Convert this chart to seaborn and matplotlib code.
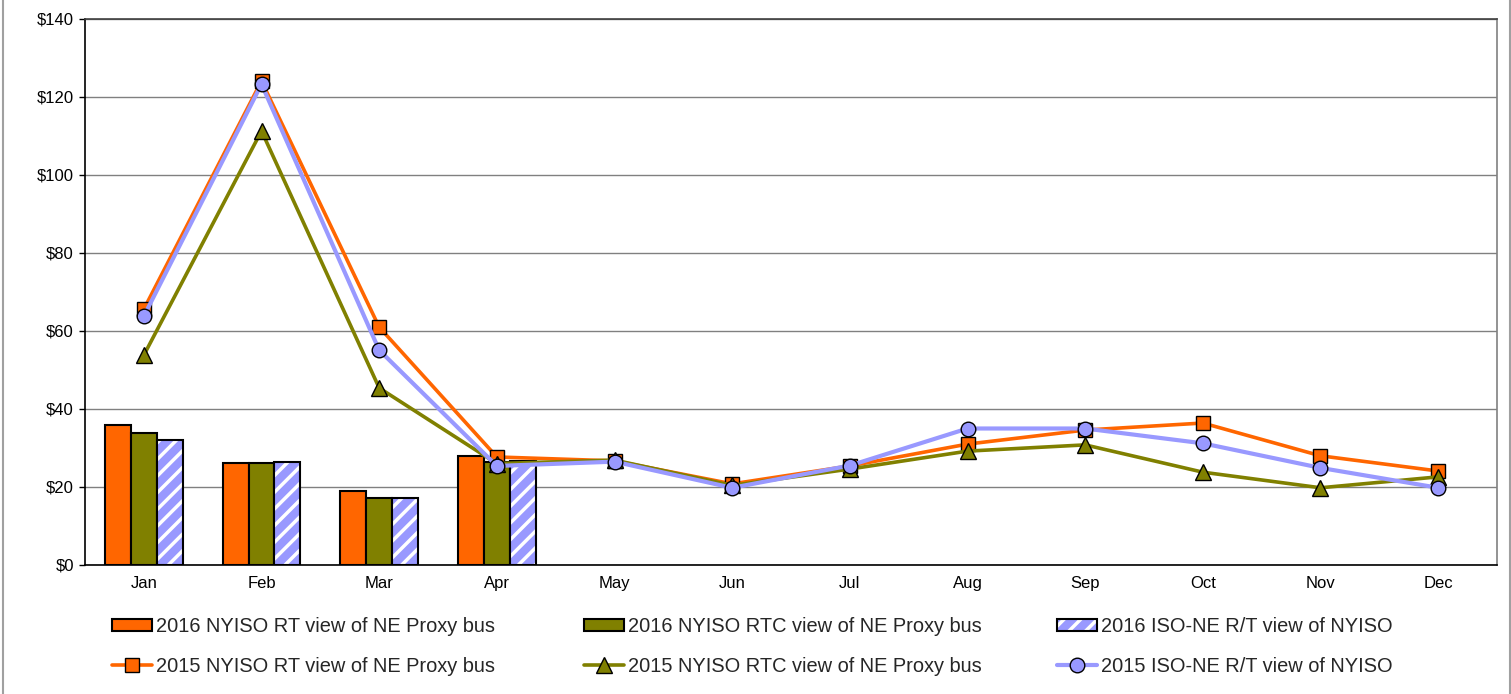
import numpy as np
import pandas as pd
import matplotlib
matplotlib.use("Agg")
import matplotlib.pyplot as plt
from matplotlib.patches import Patch, Rectangle
from matplotlib.lines import Line2D
import seaborn as sns

months = ["Jan", "Feb", "Mar", "Apr", "May", "Jun", "Jul", "Aug", "Sep", "Oct", "Nov", "Dec"]

# 2016 bars (Jan-Apr)
bar_months = ["Jan", "Feb", "Mar", "Apr"]
rt_2016 = [35.9, 26.2, 19.0, 28.0]
rtc_2016 = [33.8, 26.1, 17.2, 26.5]
isone_2016 = [32.0, 26.4, 17.2, 26.6]

# 2015 lines
rt_2015 = [65.6, 124.1, 61.0, 27.7, 26.7, 20.8, 25.4, 31.0, 34.6, 36.4, 28.0, 24.1]
rtc_2015 = [53.8, 111.3, 45.4, 26.0, 26.9, 20.4, 24.6, 29.2, 30.8, 23.8, 19.8, 22.6]
isone_2015 = [63.8, 123.3, 55.1, 25.4, 26.5, 19.8, 25.5, 35.0, 35.0, 31.2, 24.9, 19.8]

bar_labels = ["2016 NYISO RT view of NE Proxy bus",
              "2016 NYISO RTC view of NE Proxy bus",
              "2016 ISO-NE R/T view of NYISO"]
line_labels = ["2015 NYISO RT view of NE Proxy bus",
               "2015 NYISO RTC view of NE Proxy bus",
               "2015 ISO-NE R/T view of NYISO"]
y_ticks = [0, 20, 40, 60, 80, 100, 120, 140]

ORANGE = "#FF6600"
OLIVE = "#808000"
BLUE = "#9999FF"

sns.set_theme(style="white")
plt.rcParams["font.family"] = ["Liberation Sans", "DejaVu Sans"]
plt.rcParams["hatch.linewidth"] = 2.5

W, H = 1511, 694
fig = plt.figure(figsize=(W / 100, H / 100), dpi=100)
ax = fig.add_axes([85 / W, 1 - 565 / H, (1497 - 85) / W, (565 - 19) / H])

df = pd.DataFrame({
    "month": bar_months * 3,
    "series": [bar_labels[0]] * 4 + [bar_labels[1]] * 4 + [bar_labels[2]] * 4,
    "value": rt_2016 + rtc_2016 + isone_2016,
})
sns.barplot(data=df, x="month", y="value", hue="series", order=months,
            hue_order=bar_labels, palette=[ORANGE, OLIVE, BLUE], width=0.66,
            saturation=1, edgecolor="black", linewidth=1.5, errorbar=None,
            legend=False, ax=ax, zorder=2)

# hatched white stripes on blue bars, black outline drawn on top
for p in ax.containers[2]:
    p.set_hatch("//")
    p.set_edgecolor("white")
    p.set_linewidth(0)
    ax.add_patch(Rectangle(p.get_xy(), p.get_width(), p.get_height(), fill=False,
                           edgecolor="black", linewidth=1.5, zorder=2.1))

xs = np.arange(len(months))
sns.lineplot(x=xs, y=rt_2015, color=ORANGE, linewidth=2.6, marker="s", markersize=10.5,
             markeredgecolor="black", markeredgewidth=1, ax=ax, zorder=4)
sns.lineplot(x=xs, y=rtc_2015, color=OLIVE, linewidth=2.6, marker="^", markersize=11,
             markeredgecolor="black", markeredgewidth=1, ax=ax, zorder=4)
sns.lineplot(x=xs, y=isone_2015, color=BLUE, linewidth=3.0, marker="o", markersize=10.5,
             markeredgecolor="black", markeredgewidth=1, ax=ax, zorder=5)

ax.set_xlim(-0.5, 11.5)
ax.set_ylim(0, 140)
ax.set_xlabel("")
ax.set_ylabel("")
ax.set_xticks(xs)
ax.set_xticklabels(months)
ax.set_xticks(np.arange(-0.5, 12, 1), minor=True)
ax.tick_params(axis="x", which="major", length=0, pad=8, labelsize=12, labelcolor="black")
ax.tick_params(axis="x", which="minor", length=4, width=1, color="black", direction="out")
ax.set_yticks(y_ticks)
ax.set_yticklabels([f"${v}" for v in y_ticks])
ax.tick_params(axis="y", length=4, width=1, color="black", direction="out", pad=4,
               labelsize=12, labelcolor="black", left=True)
ax.yaxis.grid(True, color="#808080", linewidth=1)
ax.xaxis.grid(False)
ax.set_axisbelow(True)

for s in ["left", "bottom"]:
    ax.spines[s].set_color("black")
    ax.spines[s].set_linewidth(1.2)
ax.spines["top"].set_color("#404040")
ax.spines["top"].set_linewidth(1.2)
ax.spines["right"].set_color("#808080")
ax.spines["right"].set_linewidth(1.2)

# Legends: three columns, two rows each
bar_handles = [
    Patch(facecolor=ORANGE, edgecolor="black", linewidth=1.5),
    Patch(facecolor=OLIVE, edgecolor="black", linewidth=1.5),
    (Patch(facecolor=BLUE, edgecolor="white", linewidth=0, hatch="//"),
     Patch(facecolor="none", edgecolor="black", linewidth=1.5)),
]
line_handles = [
    Line2D([], [], color=ORANGE, linewidth=2.6, marker="s", markersize=10.5,
           markeredgecolor="black", markeredgewidth=1),
    Line2D([], [], color=OLIVE, linewidth=2.6, marker="^", markersize=11,
           markeredgecolor="black", markeredgewidth=1),
    Line2D([], [], color=BLUE, linewidth=3.0, marker="o", markersize=10.5,
           markeredgecolor="black", markeredgewidth=1),
]
col_x = [112, 584, 1057]
for i in range(3):
    fig.legend(handles=[bar_handles[i], line_handles[i]],
               labels=[bar_labels[i], line_labels[i]],
               loc="upper left", bbox_to_anchor=(col_x[i] / W, 1 - 617 / H),
               frameon=False, fontsize=14.4, handlelength=2.0, handleheight=0.6,
               handletextpad=0.2, labelspacing=1.05, borderpad=0, borderaxespad=0,
               numpoints=1)

# outer chart-area border lines
fig.add_artist(Line2D([3 / W, 3 / W], [0, 1], transform=fig.transFigure,
                      color="#A0A0A0", linewidth=1.5))
fig.add_artist(Line2D([1509.5 / W, 1509.5 / W], [0, 1], transform=fig.transFigure,
                      color="#A0A0A0", linewidth=1.5))

fig.savefig("out.png", dpi=100)
